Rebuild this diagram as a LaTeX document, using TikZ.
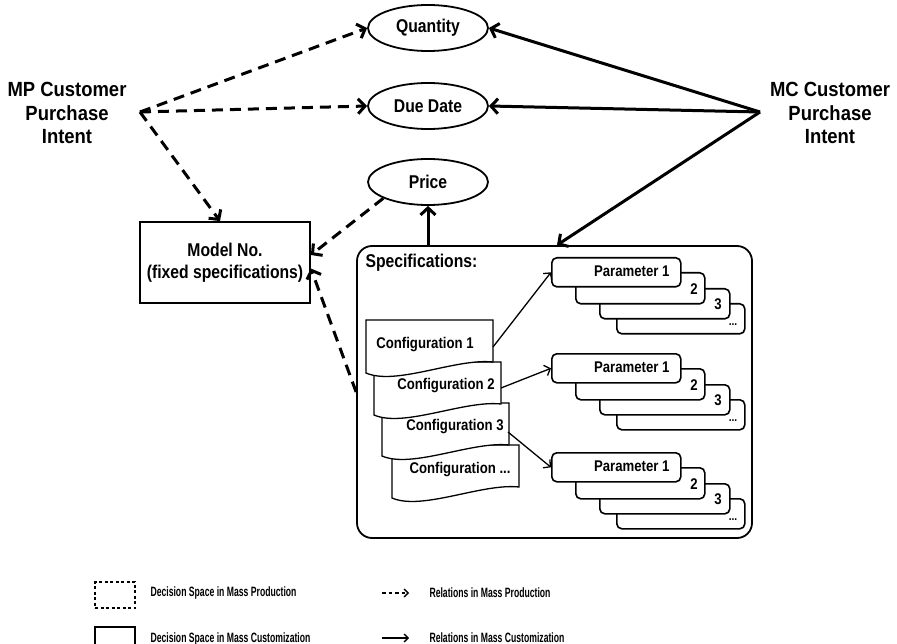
\documentclass[tikz,border=0pt]{standalone}
\usepackage{fontspec}
\setmainfont[FakeStretch=0.85]{Liberation Sans}
\newfontfamily\bigfnt[FakeStretch=0.9]{Liberation Sans}
\newfontfamily\legfnt[FakeStretch=0.64]{Liberation Sans}
\usetikzlibrary{arrows.meta,shapes.geometric}
\newcommand{\confshape}[2]{%
  \filldraw[fill=white,draw=black,line width=1.3pt]
    (#1,#2) -- (#1+127,#2) -- (#1+127,#2+42)
    .. controls (#1+90,#2+38) and (#1+30,#2+66) .. (#1,#2+53) -- cycle;}
\begin{document}
\begin{tikzpicture}[x=1pt,y=-1pt,
  medfont/.style={font=\bfseries\fontsize{18.5}{22}\selectfont},
  smallfont/.style={font=\bfseries\fontsize{15.5}{18}\selectfont},
  ell/.style={ellipse, draw, line width=1.8pt, minimum width=120pt, minimum height=46pt, inner sep=0pt, medfont},
  mpline/.style={line width=3pt, dash pattern=on 11pt off 7pt, -{Straight Barb[length=7pt,width=15pt]}},
  mcline/.style={line width=3pt, -{Straight Barb[length=7pt,width=15pt]}},
  thinarr/.style={line width=1.3pt, -{Straight Barb[length=5pt,width=11pt]}},
  pbox/.style={draw, fill=white, rounded corners=5pt, line width=1.6pt, inner sep=0pt, anchor=north west},
  bigtext/.style={align=center, font=\bigfnt\bfseries\fontsize{20.5}{23.5}\selectfont},
  legtext/.style={anchor=west, font=\legfnt\bfseries\fontsize{13.5}{15}\selectfont},
]
\useasboundingbox (0,0) rectangle (897,644);

% ellipses
\node[ell] (qty) at (428,28) {Quantity};
\node[ell] (due) at (428,106) {Due Date};
\node[ell] (price) at (428,182) {Price};

% customer intents
\node[bigtext] (mptext) at (67,113) {MP Customer\\Purchase\\Intent};
\node[bigtext] (mctext) at (830,113) {MC Customer\\Purchase\\Intent};
\coordinate (mp) at (140,112);
\coordinate (mc) at (760,112);

% model no.
\node[draw, line width=1.8pt, minimum width=170pt, minimum height=81pt, inner sep=0pt, align=center, medfont] (model) at (225,262.5) {Model No.\\(fixed specifications)};

% specification box
\node[draw, rounded corners=15pt, line width=1.8pt, minimum width=395pt, minimum height=292pt, inner sep=0pt] (spec) at (554.5,392) {};
\node[anchor=west, medfont] (spectext) at (362,263) {Specifications:};

% configurations
\confshape{392}{445}
\confshape{382}{403}
\confshape{374}{362}
\confshape{366}{320}
\node[smallfont] (c1) at (425,345) {Configuration 1};
\node[smallfont] (c2) at (446,386) {Configuration 2};
\node[smallfont] (c3) at (455,427) {Configuration 3};
\node[smallfont] (c4) at (460,470) {Configuration ...};
\coordinate (c1e) at (493,347);
\coordinate (c2e) at (501,388);
\coordinate (c3e) at (508,432);

% parameter stacks
\foreach \T/\n in {257/pa,353/pb,452/pc}{
  \node[pbox, minimum width=128pt, minimum height=30pt] (\n4) at (616,\T+46) {};
  \node[pbox, minimum width=130pt, minimum height=30pt] (\n3) at (599,\T+31) {};
  \node[pbox, minimum width=129pt, minimum height=31pt] (\n2) at (575,\T+15) {};
  \node[pbox, minimum width=129pt, minimum height=29pt] (\n1) at (551,\T) {};
  \node[smallfont, anchor=east] at (673,\T+14) {Parameter 1};
  \node[smallfont] at (694,\T+32) {2};
  \node[smallfont] at (718,\T+47) {3};
  \node[font=\bfseries\fontsize{12}{14}\selectfont] at (733,\T+68) {...};
}

% MP relations
\draw[mpline] (mp) -- (qty.west);
\draw[mpline] (mp) -- (due.west);
\draw[mpline] (mp) -- ([xshift=-5pt]model.north);
\draw[mpline] (price.200) -- ([yshift=7.5pt]model.east);
\draw[mpline] (spec.west) -- ([yshift=-6pt]model.east);

% MC relations
\draw[mcline] (mc) -- (qty.east);
\draw[mcline] (mc) -- (due.east);
\draw[mcline] (mc) -- ([xshift=2.5pt]spec.north);
\draw[mcline] (spec.north -| price.south) -- (price.south);

% configuration -> parameters
\draw[thinarr] (c1e) -- (pa1.west);
\draw[thinarr] (c2e) -- (pb1.west);
\draw[thinarr] (c3e) -- (pc1.west);

% legend
\node[draw, line width=1.2pt, dash pattern=on 3pt off 2.5pt, minimum width=40pt, minimum height=26pt, inner sep=0pt] (legmp) at (115,595) {};
\node[draw, line width=1.4pt, minimum width=40pt, minimum height=26pt, inner sep=0pt] (legmc) at (115,640) {};
\node[legtext] (legmpt) at (147,593) {Decision Space in Mass Production};
\node[legtext] (legmct) at (147,639) {Decision Space in Mass Customization};
\coordinate (la1) at (382,593);
\coordinate (la2) at (409,593);
\coordinate (lb1) at (382,638);
\coordinate (lb2) at (409,638);
\draw[line width=1.3pt, dash pattern=on 3.5pt off 3pt, -{Straight Barb[length=4pt,width=8pt]}] (la1) -- (la2);
\draw[line width=1.3pt, -{Straight Barb[length=4pt,width=8pt]}] (lb1) -- (lb2);
\node[legtext] (legrmp) at (426,593) {Relations in Mass Production};
\node[legtext] (legrmc) at (426,638) {Relations in Mass Customization};
\end{tikzpicture}
\end{document}
